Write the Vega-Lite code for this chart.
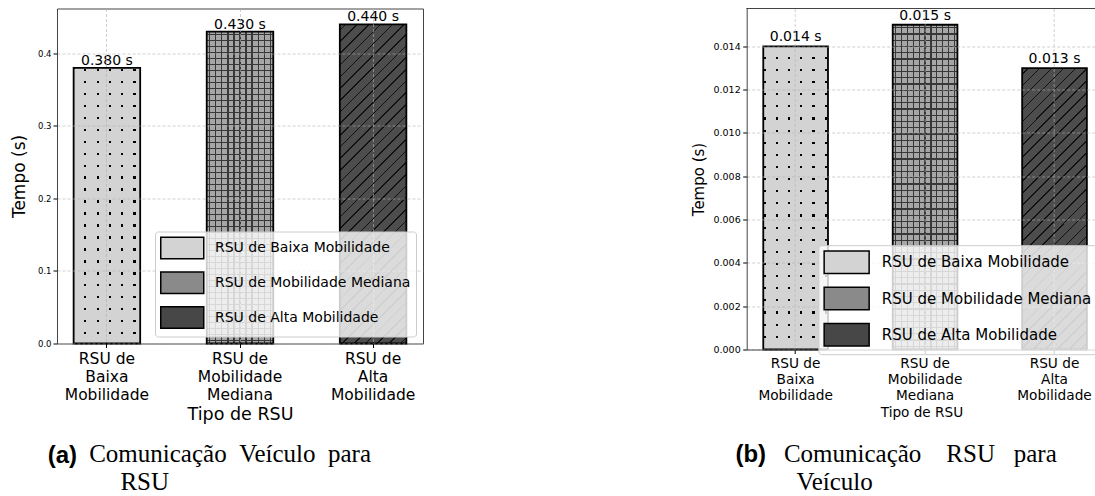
{
"$schema": "https://vega.github.io/schema/vega-lite/v6.json",
"background": "white",
"padding": {"left": 9, "top": 7.5, "right": 0, "bottom": 0},
"spacing": 267.7,
"config": {"view": {"stroke": "#444", "strokeWidth": 1}, "font": "DejaVu Sans"},
"hconcat": [
{
"title": {"text": "(a)", "orient": "bottom", "anchor": "start", "frame": "bounds", "dx": 37.7, "dy": -52, "offset": 0, "font": "Liberation Sans", "fontSize": 24, "fontWeight": "bold", "color": "black"},
"resolve": {"scale": {"color": "independent", "x": "independent", "y": "independent"}, "legend": {"color": "independent"}, "axis": {"x": "independent", "y": "independent"}},
"vconcat": [
{
"width": 366, "height": 335,
"data": {"values": [
 {"tipo": "RSU de Baixa Mobilidade", "tempo": 0.38, "rotulo": "0.380 s"},
 {"tipo": "RSU de Mobilidade Mediana", "tempo": 0.43, "rotulo": "0.430 s"},
 {"tipo": "RSU de Alta Mobilidade", "tempo": 0.44, "rotulo": "0.440 s"}
]},
"title": {"text": ["Comunicação \u00a0Veículo \u00a0para", "\u200b\u00a0\u00a0\u00a0\u00a0\u00a0RSU"], "orient": "bottom", "anchor": "start", "frame": "group", "dx": 32.2, "offset": 18.6, "font": "Liberation Serif", "fontSize": 25, "fontWeight": "normal", "color": "black", "lineHeight": 28},
"encoding": {
 "x": {"field": "tipo", "type": "nominal", "sort": null,
  "scale": {"domain": ["RSU de Baixa Mobilidade", "RSU de Mobilidade Mediana", "RSU de Alta Mobilidade"], "paddingInner": 0.5, "paddingOuter": 0.125},
  "axis": {"title": "Tipo de RSU", "titleFont": "DejaVu Sans", "titleFontSize": 17.5, "titleFontWeight": "normal", "titleColor": "black", "titlePadding": 3.2, "labelFont": "DejaVu Sans", "labelFontSize": 15.5, "labelColor": "black", "labelAngle": 0, "labelLineHeight": 18, "labelPadding": 3.7, "labelLimit": 0,
   "labelExpr": "datum.value == 'RSU de Baixa Mobilidade' ? ['RSU de', 'Baixa', 'Mobilidade'] : datum.value == 'RSU de Mobilidade Mediana' ? ['RSU de', 'Mobilidade', 'Mediana'] : ['RSU de', 'Alta', 'Mobilidade']",
   "tickSize": 4, "tickColor": "black", "tickWidth": 1, "domain": false, "grid": true, "gridColor": "#b0b0b0", "gridOpacity": 0.6, "gridDash": [3, 2], "bandPosition": 0.5, "zindex": 1}},
 "y": {"field": "tempo", "type": "quantitative",
  "scale": {"domain": [0, 0.462], "nice": false},
  "axis": {"title": "Tempo (s)", "titleFont": "DejaVu Sans", "titleFontSize": 17, "titleFontWeight": "normal", "titleColor": "black", "titlePadding": 9, "labelFont": "DejaVu Sans", "labelFontSize": 8.5, "labelColor": "black", "labelPadding": 2, "tickSize": 4, "tickColor": "black", "values": [0, 0.1, 0.2, 0.3, 0.4], "format": ".1f", "domain": false, "grid": true, "gridColor": "#b0b0b0", "gridOpacity": 0.6, "gridDash": [3, 2], "zindex": 1}}
},
"layer": [
 {"mark": {"type": "bar"},
  "encoding": {"color": {"field": "tipo", "type": "nominal", "sort": null,
   "scale": {"domain": ["RSU de Baixa Mobilidade", "RSU de Mobilidade Mediana", "RSU de Alta Mobilidade"], "range": ["#d3d3d3", "#8a8a8a", "#474747"]},
   "legend": {"title": null, "orient": "bottom-right", "offset": 7, "padding": 5, "rowPadding": 5.8, "fillColor": "rgba(255,255,255,0.8)", "strokeColor": "#cccccc", "cornerRadius": 3, "symbolType": "M-1,-1H3V1H-1Z", "symbolSize": 462.25, "symbolStrokeColor": "black", "symbolStrokeWidth": 1.5, "symbolOpacity": 1, "labelFont": "DejaVu Sans", "labelFontSize": 14, "labelColor": "black", "labelOffset": 32, "labelLimit": 400, "zindex": 2}}}},
 {"transform": [{"filter": "datum.tipo == 'RSU de Baixa Mobilidade'"}],
  "mark": {"type": "bar", "fill": {"gradient": "linear", "x1": 0, "y1": 0, "x2": 1, "y2": 0, "stops": [
   {"offset":0,"color":"#d3d3d3"},
   {"offset":0.1593,"color":"#d3d3d3"},{"offset":0.1593,"color":"#000"},{"offset":0.1923,"color":"#000"},{"offset":0.1923,"color":"#d3d3d3"},
   {"offset":0.3442,"color":"#d3d3d3"},{"offset":0.3442,"color":"#000"},{"offset":0.3772,"color":"#000"},{"offset":0.3772,"color":"#d3d3d3"},
   {"offset":0.529,"color":"#d3d3d3"},{"offset":0.529,"color":"#000"},{"offset":0.562,"color":"#000"},{"offset":0.562,"color":"#d3d3d3"},
   {"offset":0.7138,"color":"#d3d3d3"},{"offset":0.7138,"color":"#000"},{"offset":0.7468,"color":"#000"},{"offset":0.7468,"color":"#d3d3d3"},
   {"offset":0.8987,"color":"#d3d3d3"},{"offset":0.8987,"color":"#000"},{"offset":0.9317,"color":"#000"},{"offset":0.9317,"color":"#d3d3d3"},
   {"offset":1,"color":"#d3d3d3"}]}}},
 {"transform": [{"filter": "datum.tipo == 'RSU de Baixa Mobilidade'"}],
  "mark": {"type": "bar", "fill": {"gradient": "linear", "x1": 0, "y1": 0, "x2": 0, "y2": 1, "stops": [
   {"offset":0,"color":"#d3d3d3"},
   {"offset":0.0025,"color":"#d3d3d3"},{"offset":0.0025,"color":"transparent"},{"offset":0.0105,"color":"transparent"},{"offset":0.0105,"color":"#d3d3d3"},
   {"offset":0.046,"color":"#d3d3d3"},{"offset":0.046,"color":"transparent"},{"offset":0.054,"color":"transparent"},{"offset":0.054,"color":"#d3d3d3"},
   {"offset":0.0895,"color":"#d3d3d3"},{"offset":0.0895,"color":"transparent"},{"offset":0.0975,"color":"transparent"},{"offset":0.0975,"color":"#d3d3d3"},
   {"offset":0.133,"color":"#d3d3d3"},{"offset":0.133,"color":"transparent"},{"offset":0.141,"color":"transparent"},{"offset":0.141,"color":"#d3d3d3"},
   {"offset":0.1764,"color":"#d3d3d3"},{"offset":0.1764,"color":"transparent"},{"offset":0.1844,"color":"transparent"},{"offset":0.1844,"color":"#d3d3d3"},
   {"offset":0.2199,"color":"#d3d3d3"},{"offset":0.2199,"color":"transparent"},{"offset":0.2279,"color":"transparent"},{"offset":0.2279,"color":"#d3d3d3"},
   {"offset":0.2634,"color":"#d3d3d3"},{"offset":0.2634,"color":"transparent"},{"offset":0.2714,"color":"transparent"},{"offset":0.2714,"color":"#d3d3d3"},
   {"offset":0.3069,"color":"#d3d3d3"},{"offset":0.3069,"color":"transparent"},{"offset":0.3149,"color":"transparent"},{"offset":0.3149,"color":"#d3d3d3"},
   {"offset":0.3504,"color":"#d3d3d3"},{"offset":0.3504,"color":"transparent"},{"offset":0.3584,"color":"transparent"},{"offset":0.3584,"color":"#d3d3d3"},
   {"offset":0.3938,"color":"#d3d3d3"},{"offset":0.3938,"color":"transparent"},{"offset":0.4018,"color":"transparent"},{"offset":0.4018,"color":"#d3d3d3"},
   {"offset":0.4373,"color":"#d3d3d3"},{"offset":0.4373,"color":"transparent"},{"offset":0.4453,"color":"transparent"},{"offset":0.4453,"color":"#d3d3d3"},
   {"offset":0.4808,"color":"#d3d3d3"},{"offset":0.4808,"color":"transparent"},{"offset":0.4888,"color":"transparent"},{"offset":0.4888,"color":"#d3d3d3"},
   {"offset":0.5243,"color":"#d3d3d3"},{"offset":0.5243,"color":"transparent"},{"offset":0.5323,"color":"transparent"},{"offset":0.5323,"color":"#d3d3d3"},
   {"offset":0.5677,"color":"#d3d3d3"},{"offset":0.5677,"color":"transparent"},{"offset":0.5757,"color":"transparent"},{"offset":0.5757,"color":"#d3d3d3"},
   {"offset":0.6112,"color":"#d3d3d3"},{"offset":0.6112,"color":"transparent"},{"offset":0.6192,"color":"transparent"},{"offset":0.6192,"color":"#d3d3d3"},
   {"offset":0.6547,"color":"#d3d3d3"},{"offset":0.6547,"color":"transparent"},{"offset":0.6627,"color":"transparent"},{"offset":0.6627,"color":"#d3d3d3"},
   {"offset":0.6982,"color":"#d3d3d3"},{"offset":0.6982,"color":"transparent"},{"offset":0.7062,"color":"transparent"},{"offset":0.7062,"color":"#d3d3d3"},
   {"offset":0.7417,"color":"#d3d3d3"},{"offset":0.7417,"color":"transparent"},{"offset":0.7497,"color":"transparent"},{"offset":0.7497,"color":"#d3d3d3"},
   {"offset":0.7851,"color":"#d3d3d3"},{"offset":0.7851,"color":"transparent"},{"offset":0.7931,"color":"transparent"},{"offset":0.7931,"color":"#d3d3d3"},
   {"offset":0.8286,"color":"#d3d3d3"},{"offset":0.8286,"color":"transparent"},{"offset":0.8366,"color":"transparent"},{"offset":0.8366,"color":"#d3d3d3"},
   {"offset":0.8721,"color":"#d3d3d3"},{"offset":0.8721,"color":"transparent"},{"offset":0.8801,"color":"transparent"},{"offset":0.8801,"color":"#d3d3d3"},
   {"offset":0.9156,"color":"#d3d3d3"},{"offset":0.9156,"color":"transparent"},{"offset":0.9236,"color":"transparent"},{"offset":0.9236,"color":"#d3d3d3"},
   {"offset":0.959,"color":"#d3d3d3"},{"offset":0.959,"color":"transparent"},{"offset":0.967,"color":"transparent"},{"offset":0.967,"color":"#d3d3d3"},
   {"offset":1,"color":"#d3d3d3"}]}}},
 {"transform": [{"filter": "datum.tipo == 'RSU de Mobilidade Mediana'"}],
  "mark": {"type": "bar", "fill": {"gradient": "linear", "x1": 0, "y1": 0, "x2": 0, "y2": 1, "stops": [
   {"offset":0,"color":"#a6a6a6"},
   {"offset":0.0077,"color":"#a6a6a6"},{"offset":0.0077,"color":"#383838"},{"offset":0.0115,"color":"#383838"},{"offset":0.0115,"color":"#a6a6a6"},
   {"offset":0.0269,"color":"#a6a6a6"},{"offset":0.0269,"color":"#383838"},{"offset":0.0308,"color":"#383838"},{"offset":0.0308,"color":"#a6a6a6"},
   {"offset":0.0462,"color":"#a6a6a6"},{"offset":0.0462,"color":"#383838"},{"offset":0.05,"color":"#383838"},{"offset":0.05,"color":"#a6a6a6"},
   {"offset":0.0654,"color":"#a6a6a6"},{"offset":0.0654,"color":"#383838"},{"offset":0.0692,"color":"#383838"},{"offset":0.0692,"color":"#a6a6a6"},
   {"offset":0.0846,"color":"#a6a6a6"},{"offset":0.0846,"color":"#383838"},{"offset":0.0885,"color":"#383838"},{"offset":0.0885,"color":"#a6a6a6"},
   {"offset":0.1038,"color":"#a6a6a6"},{"offset":0.1038,"color":"#383838"},{"offset":0.1077,"color":"#383838"},{"offset":0.1077,"color":"#a6a6a6"},
   {"offset":0.1231,"color":"#a6a6a6"},{"offset":0.1231,"color":"#383838"},{"offset":0.1269,"color":"#383838"},{"offset":0.1269,"color":"#a6a6a6"},
   {"offset":0.1423,"color":"#a6a6a6"},{"offset":0.1423,"color":"#383838"},{"offset":0.1462,"color":"#383838"},{"offset":0.1462,"color":"#a6a6a6"},
   {"offset":0.1615,"color":"#a6a6a6"},{"offset":0.1615,"color":"#383838"},{"offset":0.1654,"color":"#383838"},{"offset":0.1654,"color":"#a6a6a6"},
   {"offset":0.1808,"color":"#a6a6a6"},{"offset":0.1808,"color":"#383838"},{"offset":0.1846,"color":"#383838"},{"offset":0.1846,"color":"#a6a6a6"},
   {"offset":0.2,"color":"#a6a6a6"},{"offset":0.2,"color":"#383838"},{"offset":0.2038,"color":"#383838"},{"offset":0.2038,"color":"#a6a6a6"},
   {"offset":0.2192,"color":"#a6a6a6"},{"offset":0.2192,"color":"#383838"},{"offset":0.2231,"color":"#383838"},{"offset":0.2231,"color":"#a6a6a6"},
   {"offset":0.2385,"color":"#a6a6a6"},{"offset":0.2385,"color":"#383838"},{"offset":0.2423,"color":"#383838"},{"offset":0.2423,"color":"#a6a6a6"},
   {"offset":0.2577,"color":"#a6a6a6"},{"offset":0.2577,"color":"#383838"},{"offset":0.2615,"color":"#383838"},{"offset":0.2615,"color":"#a6a6a6"},
   {"offset":0.2769,"color":"#a6a6a6"},{"offset":0.2769,"color":"#383838"},{"offset":0.2808,"color":"#383838"},{"offset":0.2808,"color":"#a6a6a6"},
   {"offset":0.2962,"color":"#a6a6a6"},{"offset":0.2962,"color":"#383838"},{"offset":0.3,"color":"#383838"},{"offset":0.3,"color":"#a6a6a6"},
   {"offset":0.3154,"color":"#a6a6a6"},{"offset":0.3154,"color":"#383838"},{"offset":0.3192,"color":"#383838"},{"offset":0.3192,"color":"#a6a6a6"},
   {"offset":0.3346,"color":"#a6a6a6"},{"offset":0.3346,"color":"#383838"},{"offset":0.3385,"color":"#383838"},{"offset":0.3385,"color":"#a6a6a6"},
   {"offset":0.3538,"color":"#a6a6a6"},{"offset":0.3538,"color":"#383838"},{"offset":0.3577,"color":"#383838"},{"offset":0.3577,"color":"#a6a6a6"},
   {"offset":0.3731,"color":"#a6a6a6"},{"offset":0.3731,"color":"#383838"},{"offset":0.3769,"color":"#383838"},{"offset":0.3769,"color":"#a6a6a6"},
   {"offset":0.3923,"color":"#a6a6a6"},{"offset":0.3923,"color":"#383838"},{"offset":0.3962,"color":"#383838"},{"offset":0.3962,"color":"#a6a6a6"},
   {"offset":0.4115,"color":"#a6a6a6"},{"offset":0.4115,"color":"#383838"},{"offset":0.4154,"color":"#383838"},{"offset":0.4154,"color":"#a6a6a6"},
   {"offset":0.4308,"color":"#a6a6a6"},{"offset":0.4308,"color":"#383838"},{"offset":0.4346,"color":"#383838"},{"offset":0.4346,"color":"#a6a6a6"},
   {"offset":0.45,"color":"#a6a6a6"},{"offset":0.45,"color":"#383838"},{"offset":0.4538,"color":"#383838"},{"offset":0.4538,"color":"#a6a6a6"},
   {"offset":0.4692,"color":"#a6a6a6"},{"offset":0.4692,"color":"#383838"},{"offset":0.4731,"color":"#383838"},{"offset":0.4731,"color":"#a6a6a6"},
   {"offset":0.4885,"color":"#a6a6a6"},{"offset":0.4885,"color":"#383838"},{"offset":0.4923,"color":"#383838"},{"offset":0.4923,"color":"#a6a6a6"},
   {"offset":0.5077,"color":"#a6a6a6"},{"offset":0.5077,"color":"#383838"},{"offset":0.5115,"color":"#383838"},{"offset":0.5115,"color":"#a6a6a6"},
   {"offset":0.5269,"color":"#a6a6a6"},{"offset":0.5269,"color":"#383838"},{"offset":0.5308,"color":"#383838"},{"offset":0.5308,"color":"#a6a6a6"},
   {"offset":0.5462,"color":"#a6a6a6"},{"offset":0.5462,"color":"#383838"},{"offset":0.55,"color":"#383838"},{"offset":0.55,"color":"#a6a6a6"},
   {"offset":0.5654,"color":"#a6a6a6"},{"offset":0.5654,"color":"#383838"},{"offset":0.5692,"color":"#383838"},{"offset":0.5692,"color":"#a6a6a6"},
   {"offset":0.5846,"color":"#a6a6a6"},{"offset":0.5846,"color":"#383838"},{"offset":0.5885,"color":"#383838"},{"offset":0.5885,"color":"#a6a6a6"},
   {"offset":0.6038,"color":"#a6a6a6"},{"offset":0.6038,"color":"#383838"},{"offset":0.6077,"color":"#383838"},{"offset":0.6077,"color":"#a6a6a6"},
   {"offset":0.6231,"color":"#a6a6a6"},{"offset":0.6231,"color":"#383838"},{"offset":0.6269,"color":"#383838"},{"offset":0.6269,"color":"#a6a6a6"},
   {"offset":0.6423,"color":"#a6a6a6"},{"offset":0.6423,"color":"#383838"},{"offset":0.6462,"color":"#383838"},{"offset":0.6462,"color":"#a6a6a6"},
   {"offset":0.6615,"color":"#a6a6a6"},{"offset":0.6615,"color":"#383838"},{"offset":0.6654,"color":"#383838"},{"offset":0.6654,"color":"#a6a6a6"},
   {"offset":0.6808,"color":"#a6a6a6"},{"offset":0.6808,"color":"#383838"},{"offset":0.6846,"color":"#383838"},{"offset":0.6846,"color":"#a6a6a6"},
   {"offset":0.7,"color":"#a6a6a6"},{"offset":0.7,"color":"#383838"},{"offset":0.7038,"color":"#383838"},{"offset":0.7038,"color":"#a6a6a6"},
   {"offset":0.7192,"color":"#a6a6a6"},{"offset":0.7192,"color":"#383838"},{"offset":0.7231,"color":"#383838"},{"offset":0.7231,"color":"#a6a6a6"},
   {"offset":0.7385,"color":"#a6a6a6"},{"offset":0.7385,"color":"#383838"},{"offset":0.7423,"color":"#383838"},{"offset":0.7423,"color":"#a6a6a6"},
   {"offset":0.7577,"color":"#a6a6a6"},{"offset":0.7577,"color":"#383838"},{"offset":0.7615,"color":"#383838"},{"offset":0.7615,"color":"#a6a6a6"},
   {"offset":0.7769,"color":"#a6a6a6"},{"offset":0.7769,"color":"#383838"},{"offset":0.7808,"color":"#383838"},{"offset":0.7808,"color":"#a6a6a6"},
   {"offset":0.7962,"color":"#a6a6a6"},{"offset":0.7962,"color":"#383838"},{"offset":0.8,"color":"#383838"},{"offset":0.8,"color":"#a6a6a6"},
   {"offset":0.8154,"color":"#a6a6a6"},{"offset":0.8154,"color":"#383838"},{"offset":0.8192,"color":"#383838"},{"offset":0.8192,"color":"#a6a6a6"},
   {"offset":0.8346,"color":"#a6a6a6"},{"offset":0.8346,"color":"#383838"},{"offset":0.8385,"color":"#383838"},{"offset":0.8385,"color":"#a6a6a6"},
   {"offset":0.8538,"color":"#a6a6a6"},{"offset":0.8538,"color":"#383838"},{"offset":0.8577,"color":"#383838"},{"offset":0.8577,"color":"#a6a6a6"},
   {"offset":0.8731,"color":"#a6a6a6"},{"offset":0.8731,"color":"#383838"},{"offset":0.8769,"color":"#383838"},{"offset":0.8769,"color":"#a6a6a6"},
   {"offset":0.8923,"color":"#a6a6a6"},{"offset":0.8923,"color":"#383838"},{"offset":0.8962,"color":"#383838"},{"offset":0.8962,"color":"#a6a6a6"},
   {"offset":0.9115,"color":"#a6a6a6"},{"offset":0.9115,"color":"#383838"},{"offset":0.9154,"color":"#383838"},{"offset":0.9154,"color":"#a6a6a6"},
   {"offset":0.9308,"color":"#a6a6a6"},{"offset":0.9308,"color":"#383838"},{"offset":0.9346,"color":"#383838"},{"offset":0.9346,"color":"#a6a6a6"},
   {"offset":0.95,"color":"#a6a6a6"},{"offset":0.95,"color":"#383838"},{"offset":0.9538,"color":"#383838"},{"offset":0.9538,"color":"#a6a6a6"},
   {"offset":0.9692,"color":"#a6a6a6"},{"offset":0.9692,"color":"#383838"},{"offset":0.9731,"color":"#383838"},{"offset":0.9731,"color":"#a6a6a6"},
   {"offset":0.9885,"color":"#a6a6a6"},{"offset":0.9885,"color":"#383838"},{"offset":0.9923,"color":"#383838"},{"offset":0.9923,"color":"#a6a6a6"},
   {"offset":1,"color":"#a6a6a6"}]}}},
 {"transform": [{"filter": "datum.tipo == 'RSU de Mobilidade Mediana'"}],
  "mark": {"type": "bar", "fill": {"gradient": "linear", "x1": 0, "y1": 0, "x2": 1, "y2": 0, "stops": [
   {"offset":0,"color":"transparent"},
   {"offset":0.0364,"color":"transparent"},{"offset":0.0364,"color":"#383838"},{"offset":0.0545,"color":"#383838"},{"offset":0.0545,"color":"transparent"},
   {"offset":0.1273,"color":"transparent"},{"offset":0.1273,"color":"#383838"},{"offset":0.1455,"color":"#383838"},{"offset":0.1455,"color":"transparent"},
   {"offset":0.2182,"color":"transparent"},{"offset":0.2182,"color":"#383838"},{"offset":0.2364,"color":"#383838"},{"offset":0.2364,"color":"transparent"},
   {"offset":0.3091,"color":"transparent"},{"offset":0.3091,"color":"#383838"},{"offset":0.3273,"color":"#383838"},{"offset":0.3273,"color":"transparent"},
   {"offset":0.4,"color":"transparent"},{"offset":0.4,"color":"#383838"},{"offset":0.4182,"color":"#383838"},{"offset":0.4182,"color":"transparent"},
   {"offset":0.4909,"color":"transparent"},{"offset":0.4909,"color":"#383838"},{"offset":0.5091,"color":"#383838"},{"offset":0.5091,"color":"transparent"},
   {"offset":0.5818,"color":"transparent"},{"offset":0.5818,"color":"#383838"},{"offset":0.6,"color":"#383838"},{"offset":0.6,"color":"transparent"},
   {"offset":0.6727,"color":"transparent"},{"offset":0.6727,"color":"#383838"},{"offset":0.6909,"color":"#383838"},{"offset":0.6909,"color":"transparent"},
   {"offset":0.7636,"color":"transparent"},{"offset":0.7636,"color":"#383838"},{"offset":0.7818,"color":"#383838"},{"offset":0.7818,"color":"transparent"},
   {"offset":0.8545,"color":"transparent"},{"offset":0.8545,"color":"#383838"},{"offset":0.8727,"color":"#383838"},{"offset":0.8727,"color":"transparent"},
   {"offset":0.9455,"color":"transparent"},{"offset":0.9455,"color":"#383838"},{"offset":0.9636,"color":"#383838"},{"offset":0.9636,"color":"transparent"},
   {"offset":1,"color":"transparent"}]}}},
 {"transform": [{"filter": "datum.tipo == 'RSU de Alta Mobilidade'"}],
  "mark": {"type": "bar", "fill": {"gradient": "linear", "x1": 0, "y1": 0, "x2": 0.24157, "y2": 1.15819, "stops": [
   {"offset":0,"color":"#4d4d4d"},
   {"offset":0.013,"color":"#4d4d4d"},{"offset":0.013,"color":"#111"},{"offset":0.0173,"color":"#111"},{"offset":0.0173,"color":"#4d4d4d"},
   {"offset":0.0433,"color":"#4d4d4d"},{"offset":0.0433,"color":"#111"},{"offset":0.0476,"color":"#111"},{"offset":0.0476,"color":"#4d4d4d"},
   {"offset":0.0736,"color":"#4d4d4d"},{"offset":0.0736,"color":"#111"},{"offset":0.0779,"color":"#111"},{"offset":0.0779,"color":"#4d4d4d"},
   {"offset":0.1039,"color":"#4d4d4d"},{"offset":0.1039,"color":"#111"},{"offset":0.1082,"color":"#111"},{"offset":0.1082,"color":"#4d4d4d"},
   {"offset":0.1342,"color":"#4d4d4d"},{"offset":0.1342,"color":"#111"},{"offset":0.1385,"color":"#111"},{"offset":0.1385,"color":"#4d4d4d"},
   {"offset":0.1645,"color":"#4d4d4d"},{"offset":0.1645,"color":"#111"},{"offset":0.1688,"color":"#111"},{"offset":0.1688,"color":"#4d4d4d"},
   {"offset":0.1948,"color":"#4d4d4d"},{"offset":0.1948,"color":"#111"},{"offset":0.1991,"color":"#111"},{"offset":0.1991,"color":"#4d4d4d"},
   {"offset":0.2252,"color":"#4d4d4d"},{"offset":0.2252,"color":"#111"},{"offset":0.2294,"color":"#111"},{"offset":0.2294,"color":"#4d4d4d"},
   {"offset":0.2555,"color":"#4d4d4d"},{"offset":0.2555,"color":"#111"},{"offset":0.2597,"color":"#111"},{"offset":0.2597,"color":"#4d4d4d"},
   {"offset":0.2858,"color":"#4d4d4d"},{"offset":0.2858,"color":"#111"},{"offset":0.29,"color":"#111"},{"offset":0.29,"color":"#4d4d4d"},
   {"offset":0.3161,"color":"#4d4d4d"},{"offset":0.3161,"color":"#111"},{"offset":0.3203,"color":"#111"},{"offset":0.3203,"color":"#4d4d4d"},
   {"offset":0.3464,"color":"#4d4d4d"},{"offset":0.3464,"color":"#111"},{"offset":0.3506,"color":"#111"},{"offset":0.3506,"color":"#4d4d4d"},
   {"offset":0.3767,"color":"#4d4d4d"},{"offset":0.3767,"color":"#111"},{"offset":0.3809,"color":"#111"},{"offset":0.3809,"color":"#4d4d4d"},
   {"offset":0.407,"color":"#4d4d4d"},{"offset":0.407,"color":"#111"},{"offset":0.4112,"color":"#111"},{"offset":0.4112,"color":"#4d4d4d"},
   {"offset":0.4373,"color":"#4d4d4d"},{"offset":0.4373,"color":"#111"},{"offset":0.4415,"color":"#111"},{"offset":0.4415,"color":"#4d4d4d"},
   {"offset":0.4676,"color":"#4d4d4d"},{"offset":0.4676,"color":"#111"},{"offset":0.4718,"color":"#111"},{"offset":0.4718,"color":"#4d4d4d"},
   {"offset":0.4979,"color":"#4d4d4d"},{"offset":0.4979,"color":"#111"},{"offset":0.5021,"color":"#111"},{"offset":0.5021,"color":"#4d4d4d"},
   {"offset":0.5282,"color":"#4d4d4d"},{"offset":0.5282,"color":"#111"},{"offset":0.5324,"color":"#111"},{"offset":0.5324,"color":"#4d4d4d"},
   {"offset":0.5585,"color":"#4d4d4d"},{"offset":0.5585,"color":"#111"},{"offset":0.5627,"color":"#111"},{"offset":0.5627,"color":"#4d4d4d"},
   {"offset":0.5888,"color":"#4d4d4d"},{"offset":0.5888,"color":"#111"},{"offset":0.593,"color":"#111"},{"offset":0.593,"color":"#4d4d4d"},
   {"offset":0.6191,"color":"#4d4d4d"},{"offset":0.6191,"color":"#111"},{"offset":0.6233,"color":"#111"},{"offset":0.6233,"color":"#4d4d4d"},
   {"offset":0.6494,"color":"#4d4d4d"},{"offset":0.6494,"color":"#111"},{"offset":0.6536,"color":"#111"},{"offset":0.6536,"color":"#4d4d4d"},
   {"offset":0.6797,"color":"#4d4d4d"},{"offset":0.6797,"color":"#111"},{"offset":0.6839,"color":"#111"},{"offset":0.6839,"color":"#4d4d4d"},
   {"offset":0.71,"color":"#4d4d4d"},{"offset":0.71,"color":"#111"},{"offset":0.7142,"color":"#111"},{"offset":0.7142,"color":"#4d4d4d"},
   {"offset":0.7403,"color":"#4d4d4d"},{"offset":0.7403,"color":"#111"},{"offset":0.7445,"color":"#111"},{"offset":0.7445,"color":"#4d4d4d"},
   {"offset":0.7706,"color":"#4d4d4d"},{"offset":0.7706,"color":"#111"},{"offset":0.7748,"color":"#111"},{"offset":0.7748,"color":"#4d4d4d"},
   {"offset":0.8009,"color":"#4d4d4d"},{"offset":0.8009,"color":"#111"},{"offset":0.8052,"color":"#111"},{"offset":0.8052,"color":"#4d4d4d"},
   {"offset":0.8312,"color":"#4d4d4d"},{"offset":0.8312,"color":"#111"},{"offset":0.8355,"color":"#111"},{"offset":0.8355,"color":"#4d4d4d"},
   {"offset":0.8615,"color":"#4d4d4d"},{"offset":0.8615,"color":"#111"},{"offset":0.8658,"color":"#111"},{"offset":0.8658,"color":"#4d4d4d"},
   {"offset":0.8918,"color":"#4d4d4d"},{"offset":0.8918,"color":"#111"},{"offset":0.8961,"color":"#111"},{"offset":0.8961,"color":"#4d4d4d"},
   {"offset":0.9221,"color":"#4d4d4d"},{"offset":0.9221,"color":"#111"},{"offset":0.9264,"color":"#111"},{"offset":0.9264,"color":"#4d4d4d"},
   {"offset":0.9524,"color":"#4d4d4d"},{"offset":0.9524,"color":"#111"},{"offset":0.9567,"color":"#111"},{"offset":0.9567,"color":"#4d4d4d"},
   {"offset":0.9827,"color":"#4d4d4d"},{"offset":0.9827,"color":"#111"},{"offset":0.987,"color":"#111"},{"offset":0.987,"color":"#4d4d4d"},
   {"offset":1,"color":"#4d4d4d"}]}}},
 {"mark": {"type": "bar", "fill": "transparent", "stroke": "black", "strokeWidth": 1.8}},
 {"mark": {"type": "text", "baseline": "alphabetic", "dy": -3, "font": "DejaVu Sans", "fontSize": 14, "color": "black"},
  "encoding": {"text": {"field": "rotulo"}}}
]
}
]
},
{
"title": {"text": "(b)", "orient": "bottom", "anchor": "start", "frame": "bounds", "dx": 43.7, "dy": -52, "offset": 0, "font": "Liberation Sans", "fontSize": 24, "fontWeight": "bold", "color": "black"},
"resolve": {"scale": {"color": "independent", "x": "independent", "y": "independent"}, "legend": {"color": "independent"}, "axis": {"x": "independent", "y": "independent"}},
"vconcat": [
{
"width": 349.5, "height": 341,
"view": {"stroke": null},
"data": {"values": [
 {"tipo": "RSU de Baixa Mobilidade", "tempo": 0.014, "rotulo": "0.014 s"},
 {"tipo": "RSU de Mobilidade Mediana", "tempo": 0.015, "rotulo": "0.015 s"},
 {"tipo": "RSU de Alta Mobilidade", "tempo": 0.013, "rotulo": "0.013 s"}
]},
"title": {"text": ["Comunicação \u00a0\u00a0\u00a0RSU \u00a0\u00a0para", "\u200b\u00a0\u00a0Veículo"], "orient": "bottom", "anchor": "start", "frame": "group", "dx": 37.2, "offset": 22.2, "font": "Liberation Serif", "fontSize": 25, "fontWeight": "normal", "color": "black", "lineHeight": 28},
"layer": [
{
"encoding": {
 "x": {"field": "tipo", "type": "nominal", "sort": null,
  "scale": {"domain": ["RSU de Baixa Mobilidade", "RSU de Mobilidade Mediana", "RSU de Alta Mobilidade"], "paddingInner": 0.5, "paddingOuter": 0.1, "align": 0.64},
  "axis": {"title": "Tipo de RSU", "titleFont": "DejaVu Sans", "titleFontSize": 13.6, "titleFontWeight": "normal", "titleColor": "black", "titlePadding": 3.9, "labelFont": "DejaVu Sans", "labelFontSize": 13.7, "labelColor": "black", "labelAngle": 0, "labelLineHeight": 15.7, "labelPadding": 3.4, "labelLimit": 0,
   "labelExpr": "datum.value == 'RSU de Baixa Mobilidade' ? ['RSU de', 'Baixa', 'Mobilidade'] : datum.value == 'RSU de Mobilidade Mediana' ? ['RSU de', 'Mobilidade', 'Mediana'] : ['RSU de', 'Alta', 'Mobilidade']",
   "tickSize": 4, "tickColor": "black", "tickWidth": 1, "domain": true, "domainColor": "#444", "domainWidth": 1, "grid": true, "gridColor": "#b0b0b0", "gridOpacity": 0.6, "gridDash": [3, 2], "bandPosition": 0.5, "zindex": 1}},
 "y": {"field": "tempo", "type": "quantitative",
  "scale": {"domain": [0, 0.01575], "nice": false},
  "axis": {"title": "Tempo (s)", "titleFont": "DejaVu Sans", "titleFontSize": 15, "titleFontWeight": "normal", "titleColor": "black", "titlePadding": 6.3, "labelFont": "DejaVu Sans", "labelFontSize": 9.5, "labelColor": "black", "labelPadding": 2.5, "tickSize": 4, "tickColor": "black", "values": [0, 0.002, 0.004, 0.006, 0.008, 0.01, 0.012, 0.014], "format": ".3f", "domain": true, "domainColor": "#444", "domainWidth": 1, "grid": true, "gridColor": "#b0b0b0", "gridOpacity": 0.6, "gridDash": [3, 2], "zindex": 1}}
},
"layer": [
 {"mark": {"type": "bar"},
  "encoding": {"color": {"field": "tipo", "type": "nominal", "sort": null,
   "scale": {"domain": ["RSU de Baixa Mobilidade", "RSU de Mobilidade Mediana", "RSU de Alta Mobilidade"], "range": ["#d3d3d3", "#8a8a8a", "#474747"]},
   "legend": {"title": null, "orient": "none", "legendX": 71.7, "legendY": 236.7, "padding": 5, "rowPadding": 6.3, "fillColor": "rgba(255,255,255,0.8)", "strokeColor": "#cccccc", "cornerRadius": 3, "symbolType": "M-1,-1H3V1H-1Z", "symbolSize": 506.25, "symbolStrokeColor": "black", "symbolStrokeWidth": 1.5, "symbolOpacity": 1, "labelFont": "DejaVu Sans", "labelFontSize": 15, "labelColor": "black", "labelOffset": 34.4, "labelLimit": 400, "zindex": 2}}}},
 {"transform": [{"filter": "datum.tipo == 'RSU de Baixa Mobilidade'"}],
  "mark": {"type": "bar", "fill": {"gradient": "linear", "x1": 0, "y1": 0, "x2": 1, "y2": 0, "stops": [
   {"offset":0,"color":"#d3d3d3"},
   {"offset":0.0061,"color":"#d3d3d3"},{"offset":0.0061,"color":"#000"},{"offset":0.0401,"color":"#000"},{"offset":0.0401,"color":"#d3d3d3"},
   {"offset":0.1944,"color":"#d3d3d3"},{"offset":0.1944,"color":"#000"},{"offset":0.2284,"color":"#000"},{"offset":0.2284,"color":"#d3d3d3"},
   {"offset":0.3826,"color":"#d3d3d3"},{"offset":0.3826,"color":"#000"},{"offset":0.4166,"color":"#000"},{"offset":0.4166,"color":"#d3d3d3"},
   {"offset":0.5709,"color":"#d3d3d3"},{"offset":0.5709,"color":"#000"},{"offset":0.6049,"color":"#000"},{"offset":0.6049,"color":"#d3d3d3"},
   {"offset":0.7591,"color":"#d3d3d3"},{"offset":0.7591,"color":"#000"},{"offset":0.7931,"color":"#000"},{"offset":0.7931,"color":"#d3d3d3"},
   {"offset":0.9474,"color":"#d3d3d3"},{"offset":0.9474,"color":"#000"},{"offset":0.9814,"color":"#000"},{"offset":0.9814,"color":"#d3d3d3"},
   {"offset":1,"color":"#d3d3d3"}]}}},
 {"transform": [{"filter": "datum.tipo == 'RSU de Baixa Mobilidade'"}],
  "mark": {"type": "bar", "fill": {"gradient": "linear", "x1": 0, "y1": 0, "x2": 0, "y2": 1, "stops": [
   {"offset":0,"color":"#d3d3d3"},
   {"offset":0.0344,"color":"#d3d3d3"},{"offset":0.0344,"color":"transparent"},{"offset":0.0416,"color":"transparent"},{"offset":0.0416,"color":"#d3d3d3"},
   {"offset":0.0744,"color":"#d3d3d3"},{"offset":0.0744,"color":"transparent"},{"offset":0.0816,"color":"transparent"},{"offset":0.0816,"color":"#d3d3d3"},
   {"offset":0.1144,"color":"#d3d3d3"},{"offset":0.1144,"color":"transparent"},{"offset":0.1216,"color":"transparent"},{"offset":0.1216,"color":"#d3d3d3"},
   {"offset":0.1544,"color":"#d3d3d3"},{"offset":0.1544,"color":"transparent"},{"offset":0.1616,"color":"transparent"},{"offset":0.1616,"color":"#d3d3d3"},
   {"offset":0.1944,"color":"#d3d3d3"},{"offset":0.1944,"color":"transparent"},{"offset":0.2016,"color":"transparent"},{"offset":0.2016,"color":"#d3d3d3"},
   {"offset":0.2344,"color":"#d3d3d3"},{"offset":0.2344,"color":"transparent"},{"offset":0.2416,"color":"transparent"},{"offset":0.2416,"color":"#d3d3d3"},
   {"offset":0.2744,"color":"#d3d3d3"},{"offset":0.2744,"color":"transparent"},{"offset":0.2816,"color":"transparent"},{"offset":0.2816,"color":"#d3d3d3"},
   {"offset":0.3144,"color":"#d3d3d3"},{"offset":0.3144,"color":"transparent"},{"offset":0.3216,"color":"transparent"},{"offset":0.3216,"color":"#d3d3d3"},
   {"offset":0.3544,"color":"#d3d3d3"},{"offset":0.3544,"color":"transparent"},{"offset":0.3616,"color":"transparent"},{"offset":0.3616,"color":"#d3d3d3"},
   {"offset":0.3944,"color":"#d3d3d3"},{"offset":0.3944,"color":"transparent"},{"offset":0.4016,"color":"transparent"},{"offset":0.4016,"color":"#d3d3d3"},
   {"offset":0.4344,"color":"#d3d3d3"},{"offset":0.4344,"color":"transparent"},{"offset":0.4416,"color":"transparent"},{"offset":0.4416,"color":"#d3d3d3"},
   {"offset":0.4744,"color":"#d3d3d3"},{"offset":0.4744,"color":"transparent"},{"offset":0.4816,"color":"transparent"},{"offset":0.4816,"color":"#d3d3d3"},
   {"offset":0.5144,"color":"#d3d3d3"},{"offset":0.5144,"color":"transparent"},{"offset":0.5216,"color":"transparent"},{"offset":0.5216,"color":"#d3d3d3"},
   {"offset":0.5544,"color":"#d3d3d3"},{"offset":0.5544,"color":"transparent"},{"offset":0.5616,"color":"transparent"},{"offset":0.5616,"color":"#d3d3d3"},
   {"offset":0.5944,"color":"#d3d3d3"},{"offset":0.5944,"color":"transparent"},{"offset":0.6016,"color":"transparent"},{"offset":0.6016,"color":"#d3d3d3"},
   {"offset":0.6344,"color":"#d3d3d3"},{"offset":0.6344,"color":"transparent"},{"offset":0.6416,"color":"transparent"},{"offset":0.6416,"color":"#d3d3d3"},
   {"offset":0.6744,"color":"#d3d3d3"},{"offset":0.6744,"color":"transparent"},{"offset":0.6816,"color":"transparent"},{"offset":0.6816,"color":"#d3d3d3"},
   {"offset":0.7144,"color":"#d3d3d3"},{"offset":0.7144,"color":"transparent"},{"offset":0.7216,"color":"transparent"},{"offset":0.7216,"color":"#d3d3d3"},
   {"offset":0.7544,"color":"#d3d3d3"},{"offset":0.7544,"color":"transparent"},{"offset":0.7616,"color":"transparent"},{"offset":0.7616,"color":"#d3d3d3"},
   {"offset":0.7944,"color":"#d3d3d3"},{"offset":0.7944,"color":"transparent"},{"offset":0.8016,"color":"transparent"},{"offset":0.8016,"color":"#d3d3d3"},
   {"offset":0.8344,"color":"#d3d3d3"},{"offset":0.8344,"color":"transparent"},{"offset":0.8416,"color":"transparent"},{"offset":0.8416,"color":"#d3d3d3"},
   {"offset":0.8744,"color":"#d3d3d3"},{"offset":0.8744,"color":"transparent"},{"offset":0.8816,"color":"transparent"},{"offset":0.8816,"color":"#d3d3d3"},
   {"offset":0.9144,"color":"#d3d3d3"},{"offset":0.9144,"color":"transparent"},{"offset":0.9216,"color":"transparent"},{"offset":0.9216,"color":"#d3d3d3"},
   {"offset":0.9544,"color":"#d3d3d3"},{"offset":0.9544,"color":"transparent"},{"offset":0.9616,"color":"transparent"},{"offset":0.9616,"color":"#d3d3d3"},
   {"offset":1,"color":"#d3d3d3"}]}}},
 {"transform": [{"filter": "datum.tipo == 'RSU de Mobilidade Mediana'"}],
  "mark": {"type": "bar", "fill": {"gradient": "linear", "x1": 0, "y1": 0, "x2": 0, "y2": 1, "stops": [
   {"offset":0,"color":"#a6a6a6"},
   {"offset":0.0077,"color":"#a6a6a6"},{"offset":0.0077,"color":"#383838"},{"offset":0.0115,"color":"#383838"},{"offset":0.0115,"color":"#a6a6a6"},
   {"offset":0.0269,"color":"#a6a6a6"},{"offset":0.0269,"color":"#383838"},{"offset":0.0308,"color":"#383838"},{"offset":0.0308,"color":"#a6a6a6"},
   {"offset":0.0462,"color":"#a6a6a6"},{"offset":0.0462,"color":"#383838"},{"offset":0.05,"color":"#383838"},{"offset":0.05,"color":"#a6a6a6"},
   {"offset":0.0654,"color":"#a6a6a6"},{"offset":0.0654,"color":"#383838"},{"offset":0.0692,"color":"#383838"},{"offset":0.0692,"color":"#a6a6a6"},
   {"offset":0.0846,"color":"#a6a6a6"},{"offset":0.0846,"color":"#383838"},{"offset":0.0885,"color":"#383838"},{"offset":0.0885,"color":"#a6a6a6"},
   {"offset":0.1038,"color":"#a6a6a6"},{"offset":0.1038,"color":"#383838"},{"offset":0.1077,"color":"#383838"},{"offset":0.1077,"color":"#a6a6a6"},
   {"offset":0.1231,"color":"#a6a6a6"},{"offset":0.1231,"color":"#383838"},{"offset":0.1269,"color":"#383838"},{"offset":0.1269,"color":"#a6a6a6"},
   {"offset":0.1423,"color":"#a6a6a6"},{"offset":0.1423,"color":"#383838"},{"offset":0.1462,"color":"#383838"},{"offset":0.1462,"color":"#a6a6a6"},
   {"offset":0.1615,"color":"#a6a6a6"},{"offset":0.1615,"color":"#383838"},{"offset":0.1654,"color":"#383838"},{"offset":0.1654,"color":"#a6a6a6"},
   {"offset":0.1808,"color":"#a6a6a6"},{"offset":0.1808,"color":"#383838"},{"offset":0.1846,"color":"#383838"},{"offset":0.1846,"color":"#a6a6a6"},
   {"offset":0.2,"color":"#a6a6a6"},{"offset":0.2,"color":"#383838"},{"offset":0.2038,"color":"#383838"},{"offset":0.2038,"color":"#a6a6a6"},
   {"offset":0.2192,"color":"#a6a6a6"},{"offset":0.2192,"color":"#383838"},{"offset":0.2231,"color":"#383838"},{"offset":0.2231,"color":"#a6a6a6"},
   {"offset":0.2385,"color":"#a6a6a6"},{"offset":0.2385,"color":"#383838"},{"offset":0.2423,"color":"#383838"},{"offset":0.2423,"color":"#a6a6a6"},
   {"offset":0.2577,"color":"#a6a6a6"},{"offset":0.2577,"color":"#383838"},{"offset":0.2615,"color":"#383838"},{"offset":0.2615,"color":"#a6a6a6"},
   {"offset":0.2769,"color":"#a6a6a6"},{"offset":0.2769,"color":"#383838"},{"offset":0.2808,"color":"#383838"},{"offset":0.2808,"color":"#a6a6a6"},
   {"offset":0.2962,"color":"#a6a6a6"},{"offset":0.2962,"color":"#383838"},{"offset":0.3,"color":"#383838"},{"offset":0.3,"color":"#a6a6a6"},
   {"offset":0.3154,"color":"#a6a6a6"},{"offset":0.3154,"color":"#383838"},{"offset":0.3192,"color":"#383838"},{"offset":0.3192,"color":"#a6a6a6"},
   {"offset":0.3346,"color":"#a6a6a6"},{"offset":0.3346,"color":"#383838"},{"offset":0.3385,"color":"#383838"},{"offset":0.3385,"color":"#a6a6a6"},
   {"offset":0.3538,"color":"#a6a6a6"},{"offset":0.3538,"color":"#383838"},{"offset":0.3577,"color":"#383838"},{"offset":0.3577,"color":"#a6a6a6"},
   {"offset":0.3731,"color":"#a6a6a6"},{"offset":0.3731,"color":"#383838"},{"offset":0.3769,"color":"#383838"},{"offset":0.3769,"color":"#a6a6a6"},
   {"offset":0.3923,"color":"#a6a6a6"},{"offset":0.3923,"color":"#383838"},{"offset":0.3962,"color":"#383838"},{"offset":0.3962,"color":"#a6a6a6"},
   {"offset":0.4115,"color":"#a6a6a6"},{"offset":0.4115,"color":"#383838"},{"offset":0.4154,"color":"#383838"},{"offset":0.4154,"color":"#a6a6a6"},
   {"offset":0.4308,"color":"#a6a6a6"},{"offset":0.4308,"color":"#383838"},{"offset":0.4346,"color":"#383838"},{"offset":0.4346,"color":"#a6a6a6"},
   {"offset":0.45,"color":"#a6a6a6"},{"offset":0.45,"color":"#383838"},{"offset":0.4538,"color":"#383838"},{"offset":0.4538,"color":"#a6a6a6"},
   {"offset":0.4692,"color":"#a6a6a6"},{"offset":0.4692,"color":"#383838"},{"offset":0.4731,"color":"#383838"},{"offset":0.4731,"color":"#a6a6a6"},
   {"offset":0.4885,"color":"#a6a6a6"},{"offset":0.4885,"color":"#383838"},{"offset":0.4923,"color":"#383838"},{"offset":0.4923,"color":"#a6a6a6"},
   {"offset":0.5077,"color":"#a6a6a6"},{"offset":0.5077,"color":"#383838"},{"offset":0.5115,"color":"#383838"},{"offset":0.5115,"color":"#a6a6a6"},
   {"offset":0.5269,"color":"#a6a6a6"},{"offset":0.5269,"color":"#383838"},{"offset":0.5308,"color":"#383838"},{"offset":0.5308,"color":"#a6a6a6"},
   {"offset":0.5462,"color":"#a6a6a6"},{"offset":0.5462,"color":"#383838"},{"offset":0.55,"color":"#383838"},{"offset":0.55,"color":"#a6a6a6"},
   {"offset":0.5654,"color":"#a6a6a6"},{"offset":0.5654,"color":"#383838"},{"offset":0.5692,"color":"#383838"},{"offset":0.5692,"color":"#a6a6a6"},
   {"offset":0.5846,"color":"#a6a6a6"},{"offset":0.5846,"color":"#383838"},{"offset":0.5885,"color":"#383838"},{"offset":0.5885,"color":"#a6a6a6"},
   {"offset":0.6038,"color":"#a6a6a6"},{"offset":0.6038,"color":"#383838"},{"offset":0.6077,"color":"#383838"},{"offset":0.6077,"color":"#a6a6a6"},
   {"offset":0.6231,"color":"#a6a6a6"},{"offset":0.6231,"color":"#383838"},{"offset":0.6269,"color":"#383838"},{"offset":0.6269,"color":"#a6a6a6"},
   {"offset":0.6423,"color":"#a6a6a6"},{"offset":0.6423,"color":"#383838"},{"offset":0.6462,"color":"#383838"},{"offset":0.6462,"color":"#a6a6a6"},
   {"offset":0.6615,"color":"#a6a6a6"},{"offset":0.6615,"color":"#383838"},{"offset":0.6654,"color":"#383838"},{"offset":0.6654,"color":"#a6a6a6"},
   {"offset":0.6808,"color":"#a6a6a6"},{"offset":0.6808,"color":"#383838"},{"offset":0.6846,"color":"#383838"},{"offset":0.6846,"color":"#a6a6a6"},
   {"offset":0.7,"color":"#a6a6a6"},{"offset":0.7,"color":"#383838"},{"offset":0.7038,"color":"#383838"},{"offset":0.7038,"color":"#a6a6a6"},
   {"offset":0.7192,"color":"#a6a6a6"},{"offset":0.7192,"color":"#383838"},{"offset":0.7231,"color":"#383838"},{"offset":0.7231,"color":"#a6a6a6"},
   {"offset":0.7385,"color":"#a6a6a6"},{"offset":0.7385,"color":"#383838"},{"offset":0.7423,"color":"#383838"},{"offset":0.7423,"color":"#a6a6a6"},
   {"offset":0.7577,"color":"#a6a6a6"},{"offset":0.7577,"color":"#383838"},{"offset":0.7615,"color":"#383838"},{"offset":0.7615,"color":"#a6a6a6"},
   {"offset":0.7769,"color":"#a6a6a6"},{"offset":0.7769,"color":"#383838"},{"offset":0.7808,"color":"#383838"},{"offset":0.7808,"color":"#a6a6a6"},
   {"offset":0.7962,"color":"#a6a6a6"},{"offset":0.7962,"color":"#383838"},{"offset":0.8,"color":"#383838"},{"offset":0.8,"color":"#a6a6a6"},
   {"offset":0.8154,"color":"#a6a6a6"},{"offset":0.8154,"color":"#383838"},{"offset":0.8192,"color":"#383838"},{"offset":0.8192,"color":"#a6a6a6"},
   {"offset":0.8346,"color":"#a6a6a6"},{"offset":0.8346,"color":"#383838"},{"offset":0.8385,"color":"#383838"},{"offset":0.8385,"color":"#a6a6a6"},
   {"offset":0.8538,"color":"#a6a6a6"},{"offset":0.8538,"color":"#383838"},{"offset":0.8577,"color":"#383838"},{"offset":0.8577,"color":"#a6a6a6"},
   {"offset":0.8731,"color":"#a6a6a6"},{"offset":0.8731,"color":"#383838"},{"offset":0.8769,"color":"#383838"},{"offset":0.8769,"color":"#a6a6a6"},
   {"offset":0.8923,"color":"#a6a6a6"},{"offset":0.8923,"color":"#383838"},{"offset":0.8962,"color":"#383838"},{"offset":0.8962,"color":"#a6a6a6"},
   {"offset":0.9115,"color":"#a6a6a6"},{"offset":0.9115,"color":"#383838"},{"offset":0.9154,"color":"#383838"},{"offset":0.9154,"color":"#a6a6a6"},
   {"offset":0.9308,"color":"#a6a6a6"},{"offset":0.9308,"color":"#383838"},{"offset":0.9346,"color":"#383838"},{"offset":0.9346,"color":"#a6a6a6"},
   {"offset":0.95,"color":"#a6a6a6"},{"offset":0.95,"color":"#383838"},{"offset":0.9538,"color":"#383838"},{"offset":0.9538,"color":"#a6a6a6"},
   {"offset":0.9692,"color":"#a6a6a6"},{"offset":0.9692,"color":"#383838"},{"offset":0.9731,"color":"#383838"},{"offset":0.9731,"color":"#a6a6a6"},
   {"offset":0.9885,"color":"#a6a6a6"},{"offset":0.9885,"color":"#383838"},{"offset":0.9923,"color":"#383838"},{"offset":0.9923,"color":"#a6a6a6"},
   {"offset":1,"color":"#a6a6a6"}]}}},
 {"transform": [{"filter": "datum.tipo == 'RSU de Mobilidade Mediana'"}],
  "mark": {"type": "bar", "fill": {"gradient": "linear", "x1": 0, "y1": 0, "x2": 1, "y2": 0, "stops": [
   {"offset":0,"color":"transparent"},
   {"offset":0.0364,"color":"transparent"},{"offset":0.0364,"color":"#383838"},{"offset":0.0545,"color":"#383838"},{"offset":0.0545,"color":"transparent"},
   {"offset":0.1273,"color":"transparent"},{"offset":0.1273,"color":"#383838"},{"offset":0.1455,"color":"#383838"},{"offset":0.1455,"color":"transparent"},
   {"offset":0.2182,"color":"transparent"},{"offset":0.2182,"color":"#383838"},{"offset":0.2364,"color":"#383838"},{"offset":0.2364,"color":"transparent"},
   {"offset":0.3091,"color":"transparent"},{"offset":0.3091,"color":"#383838"},{"offset":0.3273,"color":"#383838"},{"offset":0.3273,"color":"transparent"},
   {"offset":0.4,"color":"transparent"},{"offset":0.4,"color":"#383838"},{"offset":0.4182,"color":"#383838"},{"offset":0.4182,"color":"transparent"},
   {"offset":0.4909,"color":"transparent"},{"offset":0.4909,"color":"#383838"},{"offset":0.5091,"color":"#383838"},{"offset":0.5091,"color":"transparent"},
   {"offset":0.5818,"color":"transparent"},{"offset":0.5818,"color":"#383838"},{"offset":0.6,"color":"#383838"},{"offset":0.6,"color":"transparent"},
   {"offset":0.6727,"color":"transparent"},{"offset":0.6727,"color":"#383838"},{"offset":0.6909,"color":"#383838"},{"offset":0.6909,"color":"transparent"},
   {"offset":0.7636,"color":"transparent"},{"offset":0.7636,"color":"#383838"},{"offset":0.7818,"color":"#383838"},{"offset":0.7818,"color":"transparent"},
   {"offset":0.8545,"color":"transparent"},{"offset":0.8545,"color":"#383838"},{"offset":0.8727,"color":"#383838"},{"offset":0.8727,"color":"transparent"},
   {"offset":0.9455,"color":"transparent"},{"offset":0.9455,"color":"#383838"},{"offset":0.9636,"color":"#383838"},{"offset":0.9636,"color":"transparent"},
   {"offset":1,"color":"transparent"}]}}},
 {"transform": [{"filter": "datum.tipo == 'RSU de Alta Mobilidade'"}],
  "mark": {"type": "bar", "fill": {"gradient": "linear", "x1": 0, "y1": 0, "x2": 0.26902, "y2": 1.16832, "stops": [
   {"offset":0,"color":"#4d4d4d"},
   {"offset":0.0148,"color":"#4d4d4d"},{"offset":0.0148,"color":"#111"},{"offset":0.0197,"color":"#111"},{"offset":0.0197,"color":"#4d4d4d"},
   {"offset":0.0493,"color":"#4d4d4d"},{"offset":0.0493,"color":"#111"},{"offset":0.0541,"color":"#111"},{"offset":0.0541,"color":"#4d4d4d"},
   {"offset":0.0838,"color":"#4d4d4d"},{"offset":0.0838,"color":"#111"},{"offset":0.0886,"color":"#111"},{"offset":0.0886,"color":"#4d4d4d"},
   {"offset":0.1183,"color":"#4d4d4d"},{"offset":0.1183,"color":"#111"},{"offset":0.1231,"color":"#111"},{"offset":0.1231,"color":"#4d4d4d"},
   {"offset":0.1528,"color":"#4d4d4d"},{"offset":0.1528,"color":"#111"},{"offset":0.1576,"color":"#111"},{"offset":0.1576,"color":"#4d4d4d"},
   {"offset":0.1872,"color":"#4d4d4d"},{"offset":0.1872,"color":"#111"},{"offset":0.1921,"color":"#111"},{"offset":0.1921,"color":"#4d4d4d"},
   {"offset":0.2217,"color":"#4d4d4d"},{"offset":0.2217,"color":"#111"},{"offset":0.2266,"color":"#111"},{"offset":0.2266,"color":"#4d4d4d"},
   {"offset":0.2562,"color":"#4d4d4d"},{"offset":0.2562,"color":"#111"},{"offset":0.261,"color":"#111"},{"offset":0.261,"color":"#4d4d4d"},
   {"offset":0.2907,"color":"#4d4d4d"},{"offset":0.2907,"color":"#111"},{"offset":0.2955,"color":"#111"},{"offset":0.2955,"color":"#4d4d4d"},
   {"offset":0.3252,"color":"#4d4d4d"},{"offset":0.3252,"color":"#111"},{"offset":0.33,"color":"#111"},{"offset":0.33,"color":"#4d4d4d"},
   {"offset":0.3597,"color":"#4d4d4d"},{"offset":0.3597,"color":"#111"},{"offset":0.3645,"color":"#111"},{"offset":0.3645,"color":"#4d4d4d"},
   {"offset":0.3941,"color":"#4d4d4d"},{"offset":0.3941,"color":"#111"},{"offset":0.399,"color":"#111"},{"offset":0.399,"color":"#4d4d4d"},
   {"offset":0.4286,"color":"#4d4d4d"},{"offset":0.4286,"color":"#111"},{"offset":0.4334,"color":"#111"},{"offset":0.4334,"color":"#4d4d4d"},
   {"offset":0.4631,"color":"#4d4d4d"},{"offset":0.4631,"color":"#111"},{"offset":0.4679,"color":"#111"},{"offset":0.4679,"color":"#4d4d4d"},
   {"offset":0.4976,"color":"#4d4d4d"},{"offset":0.4976,"color":"#111"},{"offset":0.5024,"color":"#111"},{"offset":0.5024,"color":"#4d4d4d"},
   {"offset":0.5321,"color":"#4d4d4d"},{"offset":0.5321,"color":"#111"},{"offset":0.5369,"color":"#111"},{"offset":0.5369,"color":"#4d4d4d"},
   {"offset":0.5666,"color":"#4d4d4d"},{"offset":0.5666,"color":"#111"},{"offset":0.5714,"color":"#111"},{"offset":0.5714,"color":"#4d4d4d"},
   {"offset":0.601,"color":"#4d4d4d"},{"offset":0.601,"color":"#111"},{"offset":0.6059,"color":"#111"},{"offset":0.6059,"color":"#4d4d4d"},
   {"offset":0.6355,"color":"#4d4d4d"},{"offset":0.6355,"color":"#111"},{"offset":0.6403,"color":"#111"},{"offset":0.6403,"color":"#4d4d4d"},
   {"offset":0.67,"color":"#4d4d4d"},{"offset":0.67,"color":"#111"},{"offset":0.6748,"color":"#111"},{"offset":0.6748,"color":"#4d4d4d"},
   {"offset":0.7045,"color":"#4d4d4d"},{"offset":0.7045,"color":"#111"},{"offset":0.7093,"color":"#111"},{"offset":0.7093,"color":"#4d4d4d"},
   {"offset":0.739,"color":"#4d4d4d"},{"offset":0.739,"color":"#111"},{"offset":0.7438,"color":"#111"},{"offset":0.7438,"color":"#4d4d4d"},
   {"offset":0.7734,"color":"#4d4d4d"},{"offset":0.7734,"color":"#111"},{"offset":0.7783,"color":"#111"},{"offset":0.7783,"color":"#4d4d4d"},
   {"offset":0.8079,"color":"#4d4d4d"},{"offset":0.8079,"color":"#111"},{"offset":0.8128,"color":"#111"},{"offset":0.8128,"color":"#4d4d4d"},
   {"offset":0.8424,"color":"#4d4d4d"},{"offset":0.8424,"color":"#111"},{"offset":0.8472,"color":"#111"},{"offset":0.8472,"color":"#4d4d4d"},
   {"offset":0.8769,"color":"#4d4d4d"},{"offset":0.8769,"color":"#111"},{"offset":0.8817,"color":"#111"},{"offset":0.8817,"color":"#4d4d4d"},
   {"offset":0.9114,"color":"#4d4d4d"},{"offset":0.9114,"color":"#111"},{"offset":0.9162,"color":"#111"},{"offset":0.9162,"color":"#4d4d4d"},
   {"offset":0.9458,"color":"#4d4d4d"},{"offset":0.9458,"color":"#111"},{"offset":0.9507,"color":"#111"},{"offset":0.9507,"color":"#4d4d4d"},
   {"offset":0.9803,"color":"#4d4d4d"},{"offset":0.9803,"color":"#111"},{"offset":0.9852,"color":"#111"},{"offset":0.9852,"color":"#4d4d4d"},
   {"offset":1,"color":"#4d4d4d"}]}}},
 {"mark": {"type": "bar", "fill": "transparent", "stroke": "black", "strokeWidth": 1.8}},
 {"mark": {"type": "text", "baseline": "alphabetic", "dy": -5, "font": "DejaVu Sans", "fontSize": 14, "color": "black"},
  "encoding": {"text": {"field": "rotulo"}}}
]
},
{"mark": {"type": "rule", "color": "#444", "strokeWidth": 1}, "encoding": {"y": {"datum": 0.01575}}}
]
}
]
}
]
}
